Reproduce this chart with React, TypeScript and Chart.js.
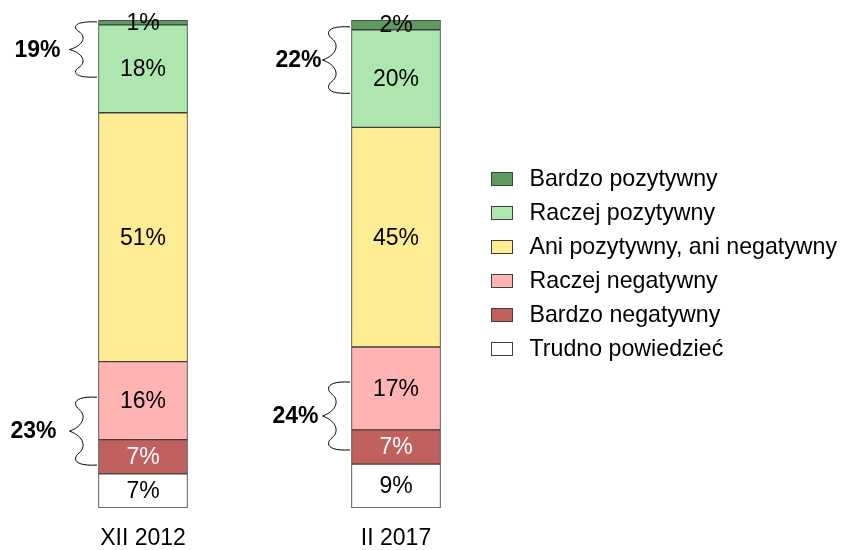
import React, { useEffect, useRef } from 'react';
import { Chart, registerables } from 'chart.js';

Chart.register(...registerables);

const FONT = '"Liberation Sans", Arial, Helvetica, sans-serif';

const categories = ['XII 2012', 'II 2017'];
const seriesNames = [
  'Trudno powiedzieć',
  'Bardzo negatywny',
  'Raczej negatywny',
  'Ani pozytywny, ani negatywny',
  'Raczej pozytywny',
  'Bardzo pozytywny',
];
const trudno = [7, 9];
const bardzoNeg = [7, 7];
const raczejNeg = [16, 17];
const ani = [51, 45];
const raczejPoz = [18, 20];
const bardzoPoz = [1, 2];
const seriesColors = ['#ffffff', '#c0605f', '#ffb3b3', '#fdec94', '#ade6ae', '#5e9a5f'];
const labelColors = ['#000000', '#ffffff', '#000000', '#000000', '#000000', '#000000'];

// Brace extents (in % units of the value axis)
const topBraceFrom = [99.6, 98.6];
const topBraceTo = [88.3, 85.0];
const bottomBraceFrom = [22.7, 25.8];
const bottomBraceTo = [8.8, 11.9];

const BORDER = '#3f3f3f';

function drawBrace(ctx: CanvasRenderingContext2D, xr: number, xl: number, y0: number, y1: number) {
  const w = xr - xl;
  const h = y1 - y0;
  const X = (u: number) => xl + u * w;
  const Y = (v: number) => y0 + v * h;
  ctx.beginPath();
  ctx.moveTo(X(1), Y(0));
  ctx.bezierCurveTo(X(0.15), Y(-0.02), X(0.1), Y(0.1), X(0.35), Y(0.18));
  ctx.bezierCurveTo(X(0.6), Y(0.26), X(0.55), Y(0.42), X(0), Y(0.5));
  ctx.bezierCurveTo(X(0.55), Y(0.58), X(0.6), Y(0.74), X(0.35), Y(0.82));
  ctx.bezierCurveTo(X(0.1), Y(0.9), X(0.15), Y(1.02), X(1), Y(1));
  ctx.stroke();
}

const decorPlugin = {
  id: 'decor',
  afterDatasetsDraw(chart: any) {
    const ctx: CanvasRenderingContext2D = chart.ctx;
    ctx.save();
    // segment labels
    ctx.font = `23px ${FONT}`;
    ctx.textAlign = 'center';
    ctx.textBaseline = 'middle';
    chart.data.datasets.forEach((ds: any, di: number) => {
      const meta = chart.getDatasetMeta(di);
      meta.data.forEach((el: any, i: number) => {
        const p = el.getProps(['x', 'y', 'base'], true);
        ctx.fillStyle = labelColors[di];
        ctx.fillText(`${ds.data[i]}%`, p.x, (p.y + p.base) / 2 + 1);
      });
    });

    // braces
    const ys = chart.scales.y;
    const meta0 = chart.getDatasetMeta(0);
    const gaps = [[9, 13], [1, 4]];
    ctx.strokeStyle = '#000';
    ctx.lineWidth = 1;
    ctx.font = `bold 23px ${FONT}`;
    ctx.textAlign = 'right';
    ctx.fillStyle = '#000';
    meta0.data.forEach((el: any, i: number) => {
      const p = el.getProps(['x', 'width'], true);
      const barLeft = p.x - p.width / 2;
      const xr = barLeft - 1.5;
      const xl = barLeft - 29;
      const braces = [
        { from: topBraceFrom[i], to: topBraceTo[i], sum: bardzoPoz[i] + raczejPoz[i], gap: gaps[i][0] },
        { from: bottomBraceFrom[i], to: bottomBraceTo[i], sum: raczejNeg[i] + bardzoNeg[i], gap: gaps[i][1] },
      ];
      braces.forEach((b) => {
        const y0 = ys.getPixelForValue(b.from);
        const y1 = ys.getPixelForValue(b.to);
        drawBrace(ctx, xr, xl, y0, y1);
        ctx.fillText(`${b.sum}%`, xl - b.gap, (y0 + y1) / 2 + 1);
      });
    });

    // legend
    const ca = chart.chartArea;
    const rowH = 34;
    const n = chart.data.datasets.length;
    const cy = (ca.top + ca.bottom) / 2;
    const boxX = 491.5;
    const textX = 529.5;
    ctx.font = `23.2px ${FONT}`;
    ctx.textAlign = 'left';
    for (let k = 0; k < n; k++) {
      const di = n - 1 - k;
      const ds = chart.data.datasets[di];
      const yc = Math.round(cy + (k - (n - 1) / 2) * rowH);
      ctx.fillStyle = ds.backgroundColor;
      ctx.fillRect(boxX, yc - 6.5, 21, 13);
      ctx.strokeStyle = BORDER;
      ctx.strokeRect(boxX, yc - 6.5, 21, 13);
      ctx.fillStyle = '#000';
      ctx.fillText(ds.label, textX, yc + 1);
    }
    ctx.restore();
  },
};

export default function App() {
  const ref = useRef<HTMLCanvasElement | null>(null);
  useEffect(() => {
    if (!ref.current) return;
    const values = [trudno, bardzoNeg, raczejNeg, ani, raczejPoz, bardzoPoz];
    const chart = new Chart(ref.current, {
      type: 'bar',
      data: {
        labels: categories,
        datasets: values.map((v, i) => ({
          label: seriesNames[i],
          data: v,
          backgroundColor: seriesColors[i],
          borderColor: BORDER,
          borderWidth: 1,
          borderSkipped: false,
          barThickness: 89,
        })),
      },
      options: {
        responsive: false,
        animation: false,
        layout: { padding: { left: 16.5, right: 321.5, top: 20, bottom: 0 } },
        plugins: { legend: { display: false }, tooltip: { enabled: false } },
        scales: {
          x: {
            stacked: true,
            grid: { display: false, drawTicks: false },
            border: { display: false },
            ticks: { color: '#000', padding: 19, font: { family: FONT, size: 23, lineHeight: 1 } },
            afterFit: (scale: any) => {
              scale.height = 42;
            },
          },
          y: { stacked: true, display: false, min: 0, max: 100 },
        },
      },
      plugins: [decorPlugin],
    });
    return () => chart.destroy();
  }, []);
  return (
    <div style={{ position: 'fixed', left: 0, top: 0, width: 844, height: 550, background: '#fff' }}>
      <canvas ref={ref} width={844} height={550} style={{ display: 'block' }} />
    </div>
  );
}
